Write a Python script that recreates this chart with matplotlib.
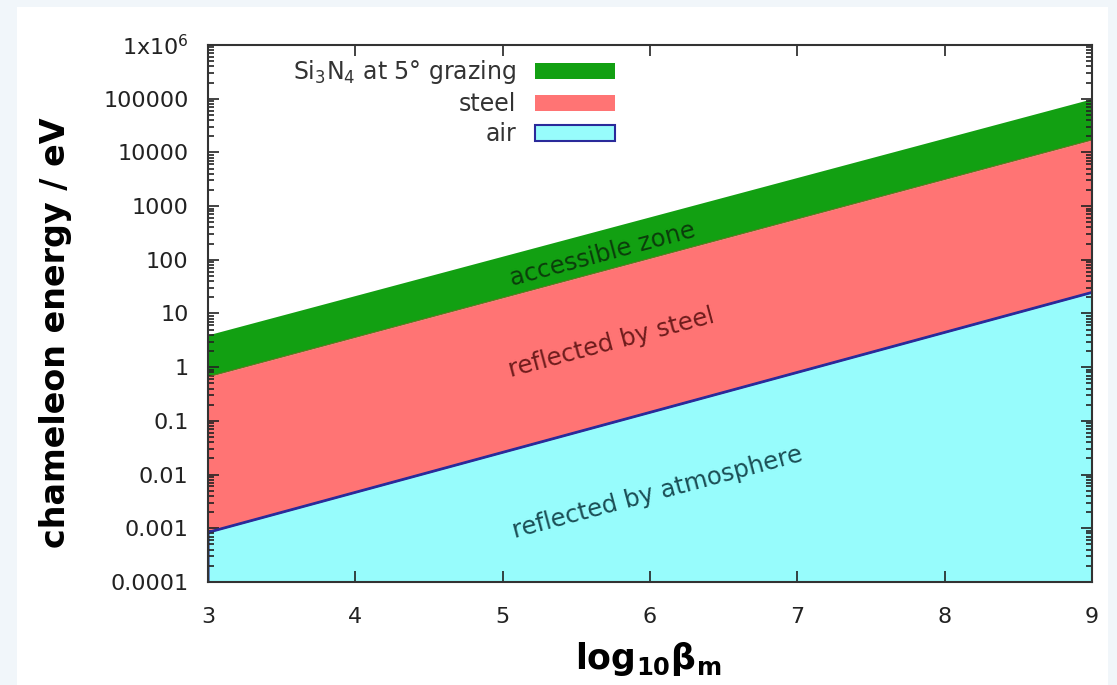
import numpy as np
import matplotlib
matplotlib.use("Agg")
import matplotlib.pyplot as plt
from matplotlib.patches import Rectangle

# boundary energies (eV) at log10(beta_m) = 3 and 9
beta = [3, 9]
air_edge = [0.00085, 25]
steel_edge = [0.66, 17000]
si3n4_edge = [4.0, 100000]
e_floor = 1e-4

yticks = [1e-4, 1e-3, 1e-2, 1e-1, 1, 10, 100, 1000, 1e4, 1e5, 1e6]
ytick_labels = ["0.0001", "0.001", "0.01", "0.1", "1", "10", "100", "1000",
                "10000", "100000", "1x10$^6$"]
xticks = [3, 4, 5, 6, 7, 8, 9]

# log-linear edges: straight lines on the log axis
x = np.linspace(beta[0], beta[1], 200)
def edge(v):
    return 10 ** np.interp(x, beta, np.log10(v))

fig = plt.figure(figsize=(11.17, 6.85), dpi=100, facecolor="#f1f6fa")
fig.patches.append(Rectangle((17 / 1117, 0), (1108 - 17) / 1117, 678 / 685,
                             transform=fig.transFigure, facecolor="white",
                             edgecolor="none", zorder=-10))
ax = fig.add_axes([0.1862, 0.1504, 0.7914, 0.7839])
ax.set_zorder(1)

green = "#12a012"
red = "#ff7474"
cyan = "#97fcfc"

ax.fill_between(x, edge(steel_edge), edge(si3n4_edge), color=green, lw=0,
                label="Si$_3$N$_4$ at 5° grazing")
ax.fill_between(x, edge(air_edge), edge(steel_edge), color=red, lw=0, label="steel")
ax.fill_between(x, e_floor, edge(air_edge), facecolor=cyan, edgecolor="#2a2a9a",
                lw=0, label="air")
ax.plot(x, edge(air_edge), color="#2a2a9a", lw=1.6)
ax.plot(x, edge(steel_edge), color="#b05030", lw=0.8, alpha=0.6)

ax.set_yscale("log")
ax.set_xlim(3, 9)
ax.set_ylim(1e-4, 1e6)
ax.set_xticks(xticks)
ax.set_xticklabels([str(t) for t in xticks])
ax.set_yticks(yticks)
ax.set_yticklabels(ytick_labels)
ax.yaxis.set_minor_locator(matplotlib.ticker.LogLocator(base=10, subs=np.arange(2, 10), numticks=20))
ax.yaxis.set_minor_formatter(matplotlib.ticker.NullFormatter())
ax.tick_params(which="both", direction="in", top=True, right=True,
               labelsize=16, colors="#222222", width=1.2)
ax.tick_params(which="major", length=8)
ax.tick_params(which="minor", length=4)
ax.tick_params(axis="x", pad=18)
ax.tick_params(axis="y", pad=14)
for s in ax.spines.values():
    s.set_color("#333333")
    s.set_linewidth(1.5)

ax.set_ylabel("chameleon energy / eV", fontsize=24, fontweight="bold")
ax.yaxis.set_label_coords((72 - 208) / 884, (582 - 333) / 537)
ax.set_xlabel(r"$\mathbf{log_{10}\beta_m}$", fontsize=25, fontweight="bold")
ax.xaxis.set_label_coords((648 - 208) / 884, -(640 - 582) / 537)

# zone labels follow the slope of the edges
ang = 15
ax.text(5.68, 123, "accessible zone", rotation=ang, fontsize=17.5, color="#0b3d0b",
        ha="center", va="center", rotation_mode="anchor")
ax.text(5.74, 2.8, "reflected by steel", rotation=ang, fontsize=17.5, color="#6e1c1c",
        ha="center", va="center", rotation_mode="anchor")
ax.text(6.05, 0.0046, "reflected by atmosphere", rotation=ang, fontsize=17.5,
        color="#1b4e55", ha="center", va="center", rotation_mode="anchor")

handles, labels = ax.get_legend_handles_labels()
handles[2].set_linewidth(1.5)
leg = ax.legend(handles, labels, loc="upper right", bbox_to_anchor=(0.485, 1.015),
                markerfirst=False, frameon=False, fontsize=17, handlelength=3.4,
                handleheight=0.65, labelspacing=0.25, handletextpad=0.8)
for t in leg.get_texts():
    t.set_color("#333333")

fig.savefig("out.png", dpi=100, facecolor=fig.get_facecolor())
